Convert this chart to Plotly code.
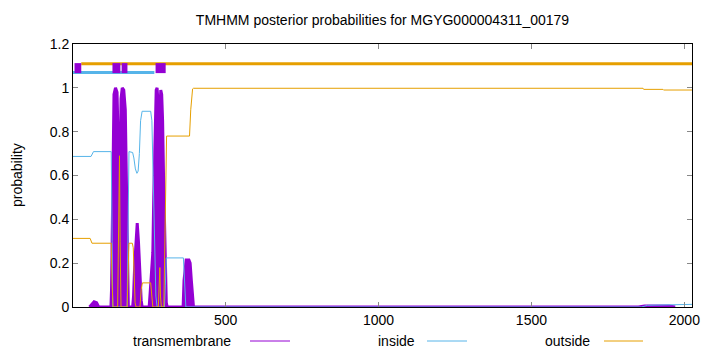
import plotly.graph_objects as go

# ---------------- data ----------------
seq_len = 2025
title = "TMHMM posterior probabilities for MGYG000004311_00179"

# posterior probability: transmembrane
tm_x = [1, 55, 62, 70, 78, 85,
        125, 127, 129, 132, 135, 140, 145, 148, 151, 153, 155, 158, 162, 167, 172, 176, 179, 182,
        196, 199, 203, 207, 211, 215, 218, 221, 224, 227,
        250, 254, 258, 262, 265, 269, 273, 276, 279, 282, 285, 288, 291, 294, 297, 300, 303, 306, 309,
        361, 364, 368, 371, 380, 384, 388, 392, 395,
        1850, 1870, 1950, 1970, 2025]
tm_y = [0, 0, 0.01, 0.024, 0.02, 0,
        0, 0.08, 0.3, 0.8, 0.97, 1.0, 0.98, 0.8, 0.4, 0.3, 0.6, 0.95, 1.0, 0.99, 0.9, 0.6, 0.2, 0,
        0, 0.05, 0.2, 0.33, 0.383, 0.3, 0.2, 0.12, 0.03, 0,
        0, 0.08, 0.2, 0.25, 0.5, 0.85, 0.99, 1.0, 0.93, 0.8, 0.9, 0.99, 0.97, 0.85, 0.6, 0.35, 0.15, 0.02, 0,
        0, 0.12, 0.2, 0.215, 0.215, 0.2, 0.12, 0.03, 0,
        0, 0.005, 0.005, 0, 0]

# posterior probability: inside
in_x = [1, 60, 68, 126, 129, 131, 178, 181, 184, 196, 200, 205, 210, 214, 218, 222, 227, 255, 259,
        263, 268, 272, 276, 300, 303, 306, 362, 366, 370, 1860, 1880, 2025]
in_y = [0.687, 0.687, 0.709, 0.709, 0.3, 0.0, 0.0, 0.4, 0.709, 0.705, 0.68, 0.63, 0.61, 0.62, 0.7,
        0.85, 0.893, 0.893, 0.85, 0.6, 0.3, 0.05, 0.0, 0.0, 0.1, 0.224, 0.224, 0.1, 0.0, 0.0, 0.008, 0.012]

# posterior probability: outside
out_x = [1, 57, 63, 126, 129, 132, 147, 150, 153, 155, 158, 178, 181, 184, 195, 198, 201, 204, 207,
         220, 224, 228, 255, 258, 262, 280, 283, 285, 287, 290, 298, 301, 304, 307, 382, 386, 392, 395,
         1865, 1867, 1930, 1932, 2025]
out_y = [0.313, 0.313, 0.291, 0.291, 0.1, 0.0, 0.0, 0.3, 0.69, 0.3, 0.0, 0.0, 0.2, 0.291, 0.291, 0.27,
         0.15, 0.02, 0.0, 0.0, 0.08, 0.11, 0.11, 0.05, 0.0, 0.0, 0.1, 0.18, 0.05, 0.0, 0.0, 0.3, 0.7,
         0.78, 0.78, 0.9, 0.995, 0.998, 0.998, 0.993, 0.993, 0.99, 0.99]

# predicted topology segments (start, end)
inside_segments = [(1, 267)]
outside_segments = [(28, 2025)]
tm_segments = [(6, 28), (130, 156), (160, 179), (271, 304)]

# ---------------- style ----------------
C_TM = "#9400D3"
C_IN = "#56B4E9"
C_OUT = "#E69F00"
LEVEL_IN, LEVEL_TM, LEVEL_OUT = 1.07, 1.09, 1.11
FONT = "Liberation Sans, Arial, Helvetica, sans-serif"

fig = go.Figure()

# transmembrane: solid fill, plus a thick outline only where the curve is above zero
fig.add_trace(go.Scatter(x=tm_x, y=tm_y, mode="lines", fill="tozeroy",
                         fillcolor=C_TM, line=dict(color=C_TM, width=0), showlegend=False))
outline_y = []
for i, v in enumerate(tm_y):
    prev_v = tm_y[i - 1] if i > 0 else 0
    next_v = tm_y[i + 1] if i < len(tm_y) - 1 else 0
    outline_y.append(None if (v == 0 and prev_v == 0 and next_v == 0) else v)
fig.add_trace(go.Scatter(x=tm_x, y=outline_y, mode="lines", connectgaps=False,
                         line=dict(color=C_TM, width=3), showlegend=False))

fig.add_trace(go.Scatter(x=in_x, y=in_y, mode="lines",
                         line=dict(color=C_IN, width=1), showlegend=False))
fig.add_trace(go.Scatter(x=out_x, y=out_y, mode="lines",
                         line=dict(color=C_OUT, width=1), showlegend=False))

# topology bars
for a, b in inside_segments:
    fig.add_trace(go.Scatter(x=[a, b], y=[LEVEL_IN, LEVEL_IN], mode="lines",
                             line=dict(color=C_IN, width=3), showlegend=False))
for a, b in outside_segments:
    fig.add_trace(go.Scatter(x=[a, b], y=[LEVEL_OUT, LEVEL_OUT], mode="lines",
                             line=dict(color=C_OUT, width=3), showlegend=False))
for a, b in tm_segments:
    fig.add_trace(go.Scatter(x=[a, b], y=[LEVEL_TM, LEVEL_TM], mode="lines",
                             line=dict(color=C_TM, width=10), showlegend=False))

W, H = 720, 352
ML, MR, MT, MB = 73, 28, 44, 45
PW, PH = W - ML - MR, H - MT - MB


def px2paper_x(px):
    return (px - ML) / PW


def px2paper_y(py):
    return (H - MB - py) / PH


# manual gnuplot-style key
legend_items = [("transmembrane", C_TM, 233, 250, 290),
                ("inside", C_IN, 417, 427, 467),
                ("outside", C_OUT, 592, 604, 643)]
ky = 341
for label, col, tx, l0, l1 in legend_items:
    fig.add_annotation(x=px2paper_x(tx), y=px2paper_y(ky), xref="paper", yref="paper",
                       text=label, showarrow=False, xanchor="right", yanchor="middle",
                       font=dict(size=14, color="black", family=FONT))
    fig.add_shape(type="line", xref="paper", yref="paper",
                  x0=px2paper_x(l0), x1=px2paper_x(l1), y0=px2paper_y(ky), y1=px2paper_y(ky),
                  line=dict(color=col, width=1))

fig.add_annotation(x=px2paper_x(17), y=px2paper_y(175), xref="paper", yref="paper",
                   text="probability", textangle=-90, showarrow=False,
                   xanchor="center", yanchor="middle",
                   font=dict(size=14, color="black", family=FONT))

fig.update_layout(
    width=W, height=H,
    margin=dict(l=ML, r=MR, t=MT, b=MB),
    paper_bgcolor="white", plot_bgcolor="white",
    font=dict(family=FONT, size=14, color="black"),
    title=dict(text=title, x=0.5, xanchor="center", y=1 - 20 / H, yanchor="middle",
               xref="paper", yref="container", font=dict(size=14, color="black", family=FONT)),
    showlegend=False,
)
fig.update_xaxes(range=[1, seq_len], tickvals=[500, 1000, 1500, 2000], ticks="inside",
                 ticklen=5, tickcolor="#888", showline=True, linecolor="black", linewidth=1,
                 mirror="allticks", showgrid=False, zeroline=False)
fig.update_yaxes(range=[0, 1.2], dtick=0.2, tick0=0, ticks="inside", ticklen=5,
                 tickcolor="#888", showline=True, linecolor="black", linewidth=1,
                 mirror="allticks", showgrid=False, zeroline=False)

fig.write_html("out.html")
